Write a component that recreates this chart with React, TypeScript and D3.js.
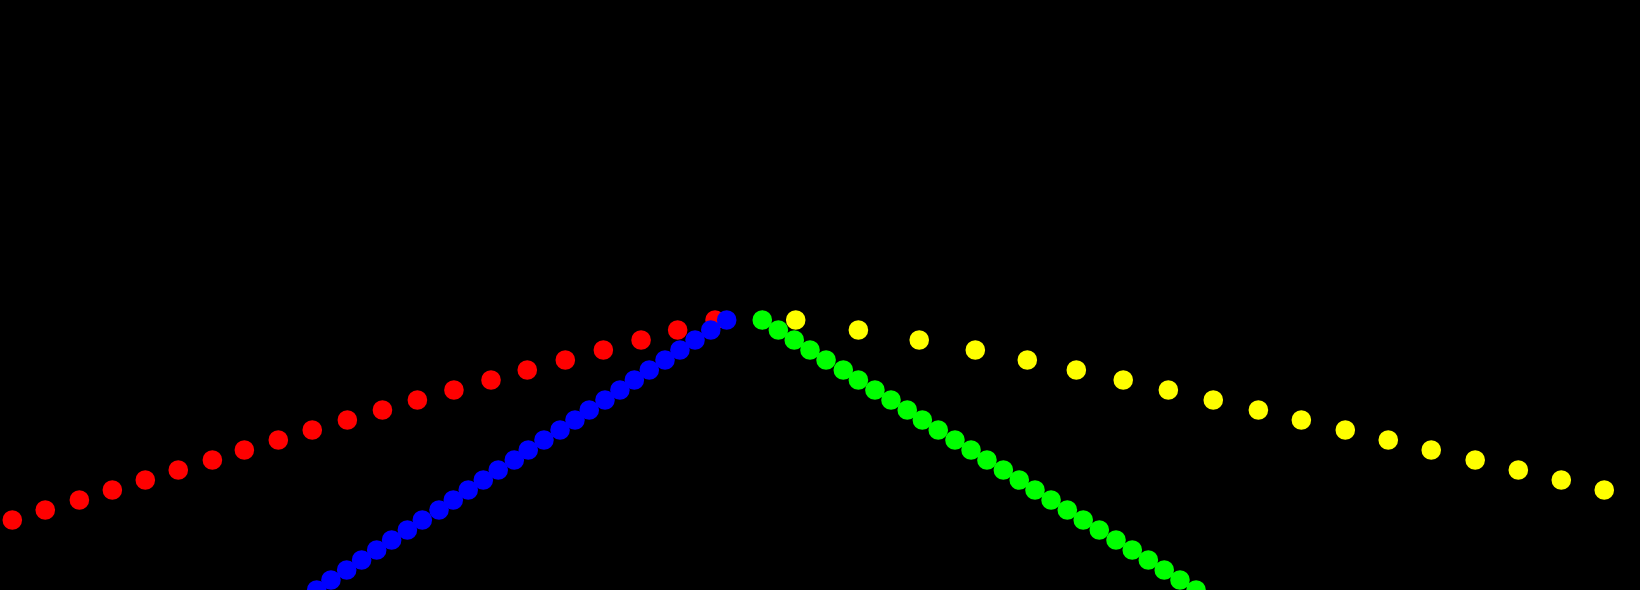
import * as d3 from "d3";

// x in chart units (0..100 across the width), y in steps (0 at the bottom edge)
const redX = [0.75, 2.76, 4.84, 6.85, 8.86, 10.87, 12.95, 14.9, 16.97, 19.04, 21.18, 23.32, 25.45, 27.68, 29.94, 32.15, 34.47, 36.79, 39.09, 41.32, 43.6];
const redY = [7, 8, 9, 10, 11, 12, 13, 14, 15, 16, 17, 18, 19, 20, 21, 22, 23, 24, 25, 26, 27];

const blueX = [19.31, 20.18, 21.14, 22.05, 22.97, 23.88, 24.84, 25.75, 26.77, 27.64, 28.55, 29.47, 30.38, 31.36, 32.21, 33.17, 34.15, 35.06, 35.93, 36.89, 37.8, 38.68, 39.59, 40.55, 41.46, 42.38, 43.34, 44.31];
const blueY = [0, 1, 2, 3, 4, 5, 6, 7, 8, 9, 10, 11, 12, 13, 14, 15, 16, 17, 18, 19, 20, 21, 22, 23, 24, 25, 26, 27];

const greenX = [46.48, 47.46, 48.43, 49.39, 50.37, 51.42, 52.34, 53.35, 54.33, 55.32, 56.24, 57.21, 58.23, 59.21, 60.18, 61.18, 62.15, 63.11, 64.09, 65.08, 66.05, 67.03, 68.05, 69.04, 70.02, 70.99, 71.95, 72.93];
const greenY = [27, 26, 25, 24, 23, 22, 21, 20, 19, 18, 17, 16, 15, 14, 13, 12, 11, 10, 9, 8, 7, 6, 5, 4, 3, 2, 1, 0];

const yellowX = [48.52, 52.34, 56.05, 59.47, 62.64, 65.63, 68.49, 71.24, 73.98, 76.73, 79.35, 82.03, 84.65, 87.27, 89.95, 92.58, 95.2, 97.82];
const yellowY = [27, 26, 25, 24, 23, 22, 21, 20, 19, 18, 17, 16, 15, 14, 13, 12, 11, 10];

const series = [
  { name: "red", color: "#ff0000", xs: redX, ys: redY },
  { name: "blue", color: "#0000ff", xs: blueX, ys: blueY },
  { name: "green", color: "#00ff00", xs: greenX, ys: greenY },
  { name: "yellow", color: "#ffff00", xs: yellowX, ys: yellowY },
];

const width = 1640;
const height = 590;

export default function App() {
  const x = d3.scaleLinear().domain([0, 100]).range([0, width]);
  const y = d3.scaleLinear().domain([0, 30]).range([height, height - 300]);

  return (
    <svg
      width={width}
      height={height}
      style={{ position: "absolute", left: 0, top: 0, display: "block" }}
    >
      <rect width={width} height={height} fill="#000" />
      {series.map((s) => (
        <g key={s.name} fill={s.color}>
          {s.xs.map((v, i) => (
            <circle key={i} cx={x(v)} cy={y(s.ys[i])} r={9.8} />
          ))}
        </g>
      ))}
    </svg>
  );
}
